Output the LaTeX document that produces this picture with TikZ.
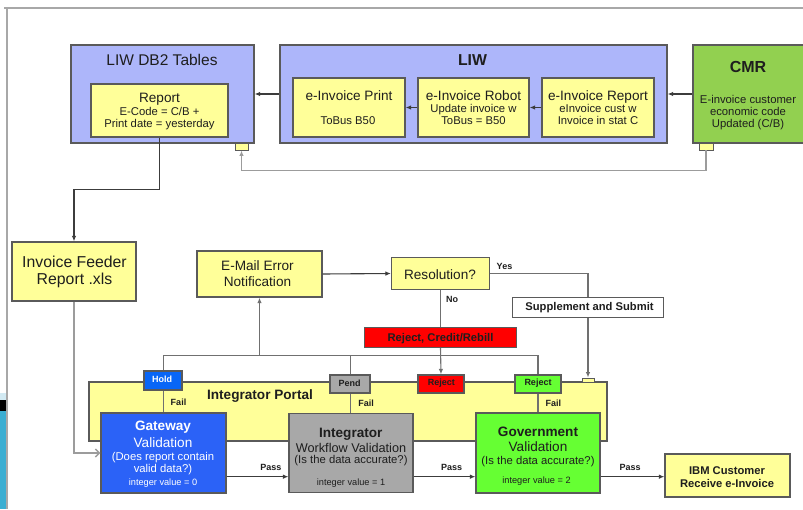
\documentclass[tikz,border=0pt]{standalone}
\usepackage{fontspec}
\setmainfont{Liberation Sans}
\usetikzlibrary{arrows.meta}

\definecolor{lav}{HTML}{ADB6FA}
\definecolor{pale}{HTML}{FFFF99}
\definecolor{leaf}{HTML}{92D050}
\definecolor{lime}{HTML}{66FF33}
\definecolor{royal}{HTML}{2B62F7}
\definecolor{holdblue}{HTML}{0866F7}
\definecolor{stone}{HTML}{A8A8A8}
\definecolor{edge}{HTML}{5A5A5A}
\definecolor{ink}{HTML}{1E1E1E}
\definecolor{wire}{HTML}{3C3C3C}
\definecolor{midwire}{HTML}{707070}
\definecolor{softwire}{HTML}{9C9C9C}
\definecolor{framegray}{HTML}{A8A8A8}
\definecolor{teal}{HTML}{3BAED2}
\definecolor{skylight}{HTML}{D2EAF3}

\tikzset{
  box/.style={draw=edge, line width=1.2pt, inner sep=0pt, rectangle},
  txt/.style={anchor=base, inner sep=0pt, text=ink},
  fA/.style={font=\fontsize{15.5}{18}\selectfont},
  fAb/.style={font=\bfseries\fontsize{15.8}{18}\selectfont},
  fF/.style={font=\fontsize{15.8}{18}\selectfont},
  fB/.style={font=\fontsize{13.6}{16}\selectfont},
  fBb/.style={font=\bfseries\fontsize{13.6}{16}\selectfont},
  fW/.style={font=\fontsize{12.7}{15}\selectfont},
  fC/.style={font=\fontsize{11.3}{13}\selectfont},
  fCb/.style={font=\bfseries\fontsize{11.2}{13}\selectfont},
  fD/.style={font=\fontsize{9.2}{11}\selectfont},
  fDb/.style={font=\bfseries\fontsize{9}{11}\selectfont},
  link/.style={draw=wire, line width=1.1pt},
  arr/.style={link, -{Latex[length=5.5pt,width=4.5pt]}},
  bus/.style={draw=midwire, line width=1.1pt},
  busarr/.style={bus, -{Latex[length=5.5pt,width=4.5pt]}},
  soft/.style={draw=softwire, line width=1.4pt},
}

\begin{document}
\begin{tikzpicture}[x=1pt,y=-1pt]
\clip (0,0) rectangle (803,509);
\fill[white] (0,0) rectangle (803,509);

% slide frame and corner decoration
\fill[skylight] (0,393) rectangle (6,400);
\fill[black] (0,400) rectangle (6,411);
\fill[teal] (0,411) rectangle (6,509);
\draw[draw=framegray, line width=1.5pt] (4,8) -- (803,8);
\draw[draw=framegray, line width=1.5pt] (7,8) -- (7,509);

% ---------- upper row: LIW tables, LIW, CMR ----------
\node[box, fill=lav, minimum width=183pt, minimum height=98pt] (db2) at (162.5,94) {};
\node[box, fill=lav, minimum width=387pt, minimum height=98pt] (liw) at (473.5,94) {};
\node[box, fill=leaf, minimum width=124pt, minimum height=98pt] (cmr) at (755,94) {};

\node[box, fill=pale, minimum width=137pt, minimum height=53pt] (report) at (159.5,110.5) {};
\node[box, fill=pale, minimum width=112pt, minimum height=59pt] (print) at (349,107.5) {};
\node[box, fill=pale, minimum width=111pt, minimum height=59pt] (robot) at (473.5,107.5) {};
\node[box, fill=pale, minimum width=112pt, minimum height=59pt] (erpt) at (598,107.5) {};

\node[box, fill=pale, line width=0.9pt, minimum width=13pt, minimum height=7pt] (db2tab) at (241.5,146.5) {};
\node[box, fill=pale, line width=0.9pt, minimum width=14pt, minimum height=7pt] (cmrtab) at (706,146.5) {};

\node[txt, fA] (db2t) at (162,65) {LIW DB2 Tables};
\node[txt, fAb] (liwt) at (472.5,65) {LIW};
\node[txt, font=\bfseries\fontsize{16}{19}\selectfont] (cmrt) at (748,72) {CMR};

\node[txt, fB] (rep1) at (159.5,102) {Report};
\node[txt, fC] (rep2) at (159.5,115) {E-Code = C/B +};
\node[txt, fC] (rep3) at (159.5,127) {Print date = yesterday};

\node[txt, fB] (pr1) at (349,100) {e-Invoice Print};
\node[txt, fC] (pr2) at (348,124) {ToBus B50};

\node[txt, fB] (ro1) at (473.5,100) {e-Invoice Robot};
\node[txt, fC] (ro2) at (473.5,112) {Update invoice w};
\node[txt, fC] (ro3) at (473.5,124) {ToBus = B50};

\node[txt, fB] (er1) at (598,100) {e-Invoice Report};
\node[txt, fC] (er2) at (598,112) {eInvoice cust w};
\node[txt, fC] (er3) at (598,124) {Invoice in stat C};

\node[txt, fC] (cm1) at (748,103) {E-invoice customer};
\node[txt, fC] (cm2) at (748,115) {economic code};
\node[txt, fC] (cm3) at (748,127.5) {Updated (C/B)};

\draw[arr] (liw.west) -- (db2.east);
\draw[arr] (cmr.west) -- (liw.east);
\draw[arr] (erpt.west) -- (robot.east);
\draw[arr] (robot.west) -- (print.east);

\coordinate (backy) at (0,170.5);
\draw[soft, -{Latex[length=5.5pt,width=4.5pt]}] (cmrtab.south) -- (cmrtab.south |- backy) -| (db2tab.south);

% ---------- feeder report ----------
\node[box, fill=pale, minimum width=124pt, minimum height=59pt] (feeder) at (74,271.5) {};
\node[txt, fF] (fe1) at (74.5,267.5) {Invoice Feeder};
\node[txt, fF] (fe2) at (74.5,284.5) {Report .xls};

\coordinate (downy) at (0,189.5);
\draw[arr] (report.south) -- (report.south |- downy) -| (feeder.north);

% ---------- error handling ----------
\node[box, fill=pale, minimum width=125pt, minimum height=46pt] (email) at (259.5,274) {};
\node[txt, fB] (em1) at (257.5,270.5) {E-Mail Error};
\node[txt, fB] (em2) at (257.5,286) {Notification};

\node[box, fill=pale, minimum width=98pt, minimum height=32pt] (resol) at (440.5,273.5) {};
\node[txt, fB] (res) at (440,279) {Resolution?};

\node[box, fill=white, minimum width=151pt, minimum height=19.5pt] (supp) at (588,307.5) {};
\node[txt, fCb] (supt) at (589.5,310.5) {Supplement and Submit};

\node[box, fill=red, minimum width=152pt, minimum height=20pt] (rcr) at (440.5,337.5) {};
\node[txt, fCb] (rcrt) at (440.5,341.5) {Reject, Credit/Rebill};

\draw[arr] (email.east) -- (resol.west);
\draw[bus] (resol.east) -| (supp.north);
\draw[bus] (resol.south) -- (rcr.north);
\node[txt, fDb] (yes) at (504.5,269) {Yes};
\node[txt, fDb] (no) at (452,302.5) {No};

% ---------- integrator portal ----------
\node[box, fill=pale, minimum width=518pt, minimum height=59pt] (portal) at (348,411.5) {};
\node[txt, fBb] (portt) at (260,399.5) {Integrator Portal};

\coordinate (bus) at (0,355.7);
\coordinate (passy) at (0,476.7);

\draw[bus] (163.5,413) -- (163.5,355.7) -- (538,355.7) -- (538,413);
\draw[bus] (350.5,413) -- (350.5,355.7);
\draw[busarr] (email.south |- bus) -- (email.south);

\node[box, fill=holdblue, minimum width=38pt, minimum height=19pt] (hold) at (163,380.5) {};
\node[box, fill=stone, minimum width=40pt, minimum height=18pt] (pend) at (350,384) {};
\node[box, fill=red, minimum width=46pt, minimum height=18pt] (rejr) at (441,384) {};
\node[box, fill=lime, minimum width=46pt, minimum height=18pt] (rejg) at (538,384) {};
\node[box, fill=pale, line width=0.9pt, minimum width=12pt, minimum height=4pt] (stab) at (588,380) {};

\node[txt, fDb, text=white] (holdt) at (162,382) {Hold};
\node[txt, fDb] (pendt) at (349.5,386) {Pend};
\node[txt, fDb] (rejrt) at (441.3,385.5) {Reject};
\node[txt, fDb] (rejgt) at (538,385.5) {Reject};

\draw[busarr] (rcr.south) -- (rejr.north);
\draw[busarr] (supp.south) -- (stab.north);

\node[txt, fDb] (fail1) at (178.5,405.5) {Fail};
\node[txt, fDb] (fail2) at (366,406.5) {Fail};
\node[txt, fDb] (fail3) at (553.3,406.5) {Fail};

% ---------- validation chain ----------
\node[box, fill=royal, minimum width=125pt, minimum height=80pt] (gate) at (163.5,453) {};
\node[box, fill=stone, minimum width=124pt, minimum height=79pt] (integ) at (351,453) {};
\node[box, fill=lime, minimum width=124pt, minimum height=80pt] (gov) at (538,453) {};
\node[box, fill=pale, minimum width=125pt, minimum height=43pt] (ibm) at (727.5,475.5) {};

\node[txt, fBb, text=white] (ga1) at (163,430.5) {Gateway};
\node[txt, fB, text=white] (ga2) at (163,447) {Validation};
\node[txt, fC, text=white] (ga3) at (163,460) {(Does report contain};
\node[txt, fC, text=white] (ga4) at (163,472) {valid data?)};
\node[txt, fD, text=white] (ga5) at (163,485) {integer value = 0};

\node[txt, fBb] (in1) at (350.8,437.5) {Integrator};
\node[txt, fW] (in2) at (351,452) {Workflow Validation};
\node[txt, fC] (in3) at (351,463.5) {(Is the data accurate?)};
\node[txt, fD] (in4) at (351,485) {integer value = 1};

\node[txt, fBb] (go1) at (538,436) {Government};
\node[txt, fB] (go2) at (538,451.5) {Validation};
\node[txt, fC] (go3) at (538,464) {(Is the data accurate?)};
\node[txt, fD] (go4) at (536.5,483) {integer value = 2};

\node[txt, fCb] (ib1) at (727,474.5) {IBM Customer};
\node[txt, fCb] (ib2) at (727,487) {Receive e-Invoice};

\draw[soft, -{Straight Barb[length=4pt,width=8pt]}] (feeder.south) |- (gate.west);

\draw[arr] (gate.east |- passy) -- (integ.west |- passy);
\draw[arr] (integ.east |- passy) -- (gov.west |- passy);
\draw[arr] (gov.east |- passy) -- (ibm.west |- passy);
\node[txt, fDb] (pass1) at (270.8,470.5) {Pass};
\node[txt, fDb] (pass2) at (451.7,470.5) {Pass};
\node[txt, fDb] (pass3) at (630.2,470.5) {Pass};
\end{tikzpicture}
\end{document}
